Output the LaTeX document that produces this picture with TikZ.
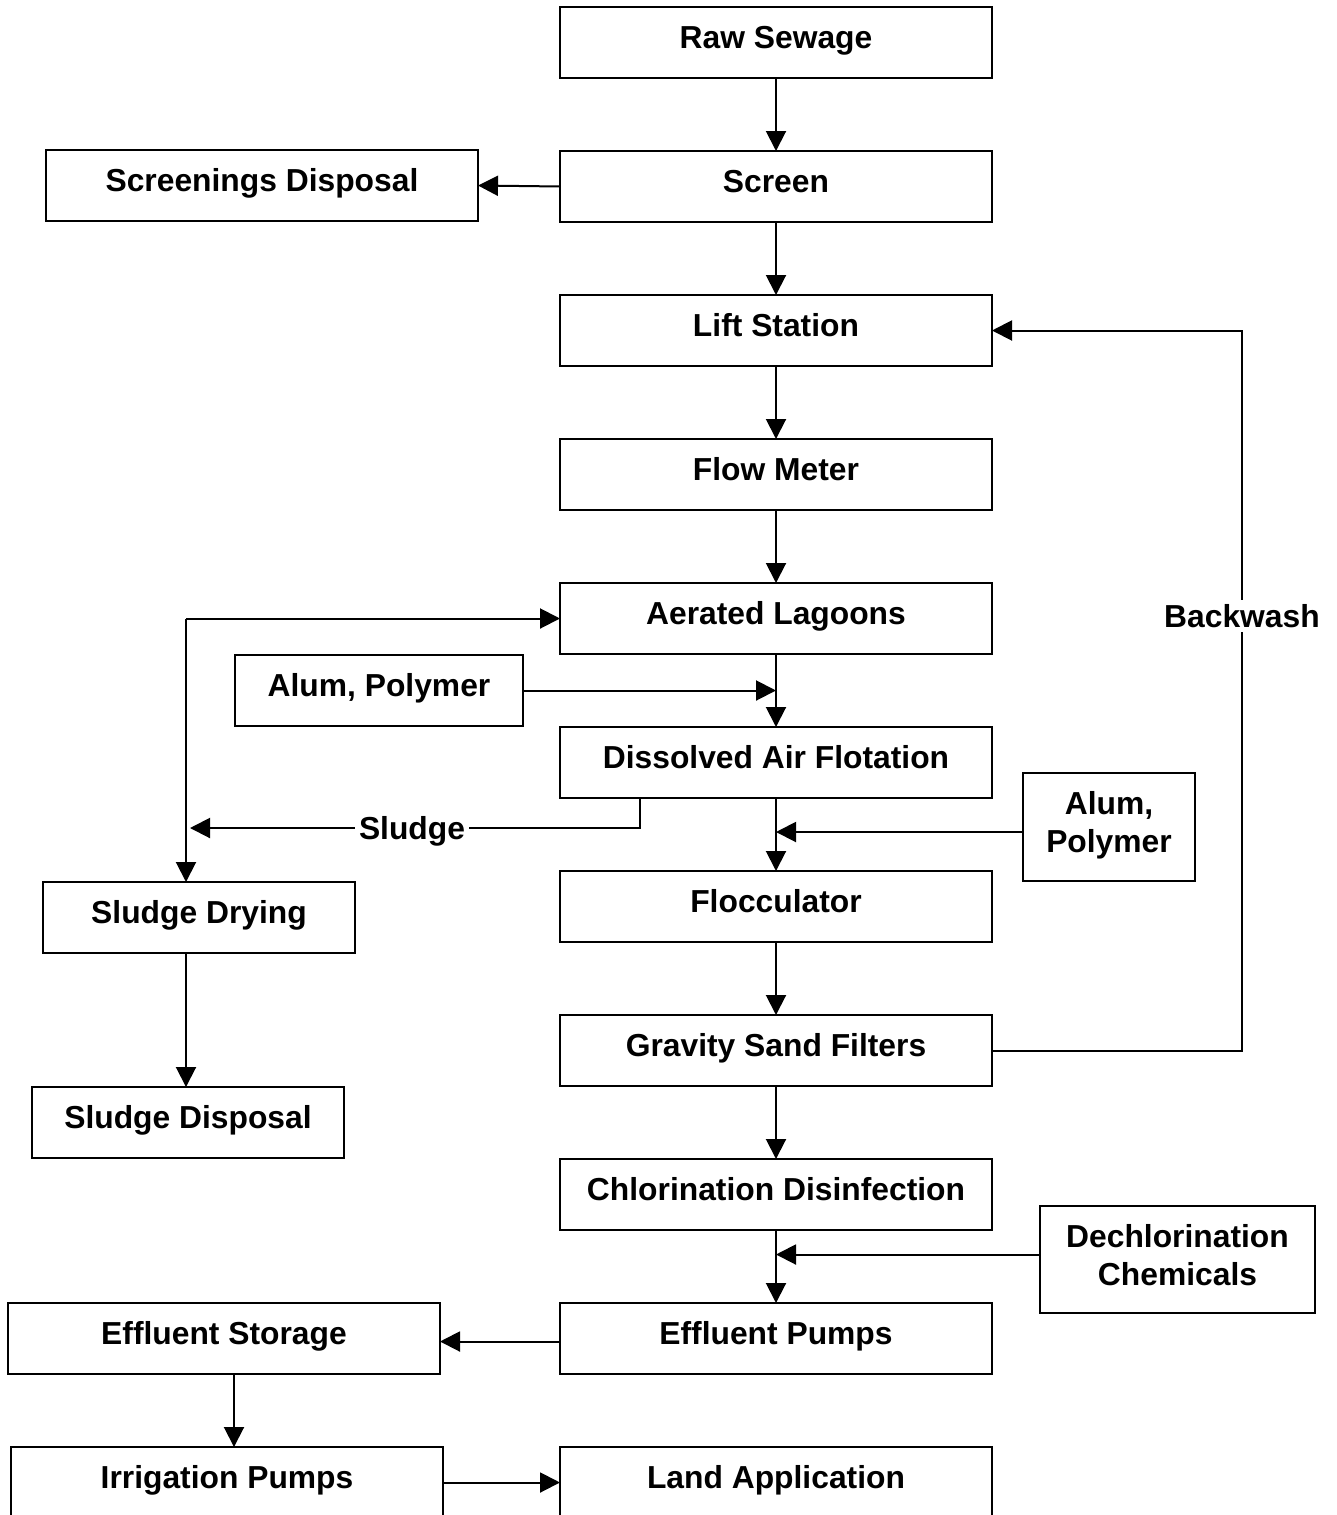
\documentclass[tikz,border=0pt]{standalone}
\usepackage{fontspec}
\setmainfont{Liberation Sans}
\usetikzlibrary{arrows.meta,calc}
\begin{document}
\begin{tikzpicture}[x=0.5pt,y=-0.5pt,
  box/.style={draw,line width=1pt,inner sep=0pt,outer sep=0pt,
    text height=20.7pt,text depth=14.8pt,anchor=north west,
    font=\bfseries\fontsize{15.9}{19}\selectfont},
  mainbox/.style={box,minimum width=216pt},
  twoline/.style={box,align=center,text height=39.7pt},
  flow/.style={line width=1pt,-{Triangle[length=10pt,width=10pt]}},
  lbl/.style={fill=white,inner sep=2pt,font=\bfseries\fontsize{15.9}{19}\selectfont}]
\useasboundingbox (0,0) rectangle (1337,1515);
\clip (0,0) rectangle (1337,1515);
% main column
\node[mainbox] (raw)  at (560,7)    {Raw Sewage};
\node[mainbox] (scr)  at (560,151)  {Screen};
\node[mainbox] (lift) at (560,295)  {Lift Station};
\node[mainbox] (flm)  at (560,439)  {Flow Meter};
\node[mainbox] (aer)  at (560,583)  {Aerated Lagoons};
\node[mainbox] (daf)  at (560,727)  {Dissolved Air Flotation};
\node[mainbox] (floc) at (560,871)  {Flocculator};
\node[mainbox] (grav) at (560,1015) {Gravity Sand Filters};
\node[mainbox] (chl)  at (560,1159) {Chlorination Disinfection};
\node[mainbox] (ep)   at (560,1303) {Effluent Pumps};
\node[mainbox] (land) at (560,1447) {Land Application};
% side boxes
\node[box,minimum width=216pt] (scd)   at (46,150)  {Screenings Disposal};
\node[box,minimum width=144pt] (alum)  at (235,655) {Alum, Polymer};
\node[box,minimum width=156pt] (sdry)  at (43,882)  {Sludge Drying};
\node[box,minimum width=156pt] (sdisp) at (32,1087) {Sludge Disposal};
\node[box,minimum width=216pt] (est)   at (8,1303)  {Effluent Storage};
\node[box,minimum width=216pt] (irr)   at (11,1447) {Irrigation Pumps};
\node[twoline,minimum width=86pt,text depth=14.3pt] (alumb) at (1023,773) {Alum,\\Polymer};
\node[twoline,minimum width=137.5pt,text depth=13.8pt] (dech) at (1040,1206) {Dechlorination\\Chemicals};
% helper points
\coordinate (a2) at ($(alumb.west)+(0,5)$);
\coordinate (dc) at ($(dech.west)+(0,-5)$);
\coordinate (epw) at ($(ep.west)+(0,3)$);
\coordinate (ests) at ($(est.south)+(10,0)$);
% main flow
\draw[flow] (raw) -- (scr);
\draw[flow] (scr) -- (lift);
\draw[flow] (lift) -- (flm);
\draw[flow] (flm) -- (aer);
\draw[flow] (aer) -- (daf);
\draw[flow] (daf) -- (floc);
\draw[flow] (floc) -- (grav);
\draw[flow] (grav) -- (chl);
\draw[flow] (chl) -- (ep);
\draw[flow] (scr.west) -- (scd.east);
\draw[flow] (alum.east) -- (alum.east -| aer.south);
\draw[flow] (a2) -- (a2 -| daf.south);
\draw[flow] (dc) -- (dc -| chl.south);
\draw[flow] (epw) -- (epw -| est.east);
\draw[flow] (ests) -- (ests |- irr.north);
\draw[flow] (irr.east) -- (land.west);
% sludge loop
\coordinate (sdtop) at ($(sdry.north west)+(143,0)$);
\coordinate (sjoin) at (sdtop |- aer.west);
\coordinate (slstart) at ($(daf.south west)+(80,0)$);
\coordinate (sltip) at ($(sdtop)+(4,-54)$);
\draw[flow] (sjoin) -- (sdtop);
\draw[flow] (sjoin) -- (aer.west);
\draw[flow] (slstart) |- (sltip);
\node[lbl,anchor=base] (sludge) at (412,839.4) {Sludge};
\draw[flow] (sdtop |- sdry.south) -- (sdtop |- sdisp.north);
% backwash
\draw[flow] (grav.east) -- ++(250,0) coordinate (bwc) |- (lift.east);
\node[lbl] (bw) at (bwc |- 0,616) {Backwash};
\end{tikzpicture}
\end{document}
